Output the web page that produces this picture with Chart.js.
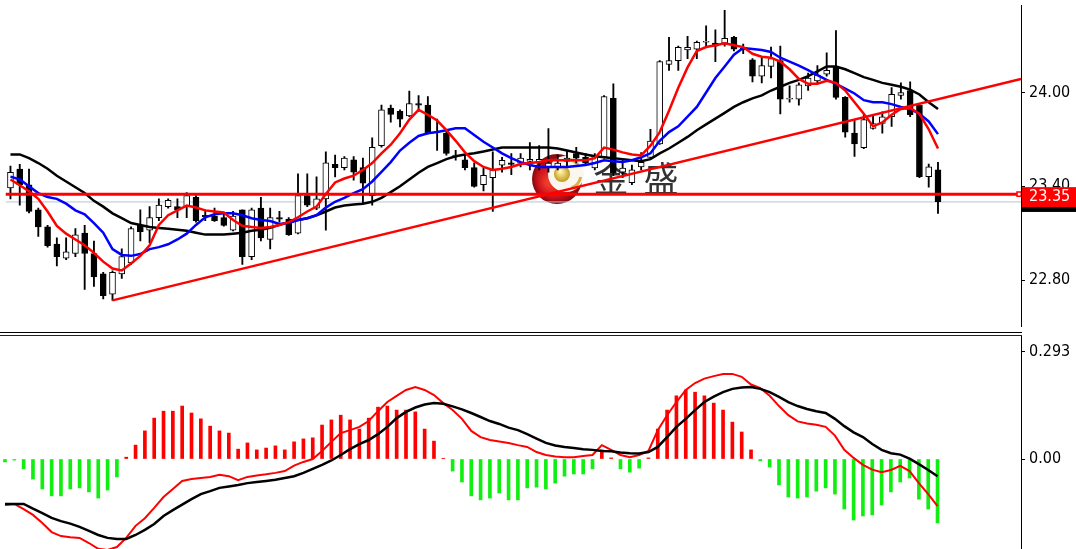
<!DOCTYPE html>
<html><head><meta charset="utf-8">
<script src="https://cdn.jsdelivr.net/npm/chart.js@4.4.1/dist/chart.umd.min.js"></script>
<style>
html,body{margin:0;padding:0;background:#fff;width:1076px;height:549px;overflow:hidden;}
#main{position:absolute;left:0;top:0;width:1076px;height:332px;}
#macd{position:absolute;left:0;top:336px;width:1076px;height:213px;}
.sep{position:absolute;left:0;width:1022px;height:1px;background:#000;}
</style></head><body>
<div id="main"><canvas id="c1"></canvas></div>
<div class="sep" style="top:332px"></div>
<div class="sep" style="top:335px;background:#222"></div>
<div id="macd"><canvas id="c2"></canvas></div>
<script>
// ---------- data ----------
const opens = [
23.39,23.51,23.41,23.25,23.14,23.03,22.94,22.97,23.10,22.97,
22.84,22.71,22.84,22.91,23.15,23.12,23.20,23.27,23.27,23.27,
23.33,23.215,23.21,23.20,23.12,23.25,22.95,23.26,23.06,23.20,
23.19,23.10,23.34,23.26,23.32,23.54,23.52,23.57,23.52,23.34,
23.66,23.90,23.88,23.85,23.93,23.92,23.75,23.74,23.59,23.57,
23.52,23.41,23.455,23.535,23.55,23.548,23.56,23.548,23.524,23.524,
23.56,23.61,23.585,23.517,23.585,23.963,23.49,23.424,23.524,23.585,
23.672,24.18,24.204,24.272,24.278,24.322,24.316,24.316,24.353,24.285,
24.21,24.105,24.167,24.204,23.957,23.957,24.043,24.074,24.118,24.167,
23.969,23.74,23.647,23.771,23.802,23.845,23.982,24.013,23.92,23.462,
23.505];
const closes = [
23.49,23.41,23.24,23.14,23.02,22.95,22.98,23.09,22.97,22.82,
22.70,22.85,22.95,23.13,23.11,23.20,23.28,23.31,23.25,23.34,
23.18,23.205,23.18,23.15,23.21,22.95,23.25,23.07,23.20,23.19,
23.09,23.34,23.28,23.32,23.55,23.52,23.58,23.49,23.42,23.65,
23.89,23.86,23.83,23.93,23.92,23.74,23.745,23.61,23.60,23.52,
23.40,23.47,23.505,23.566,23.54,23.58,23.573,23.573,23.548,23.548,
23.58,23.58,23.548,23.60,23.975,23.486,23.517,23.505,23.554,23.69,
24.198,24.204,24.29,24.29,24.322,24.328,24.297,24.347,24.278,24.272,
24.105,24.173,24.217,23.957,23.963,24.05,24.093,24.111,24.142,23.969,
23.746,23.672,23.827,23.802,23.845,23.988,24.0,23.858,23.462,23.524,
23.301];
const highs = [
23.53,23.54,23.51,23.26,23.15,23.07,23.07,23.13,23.15,23.05,
22.85,22.86,23.00,23.14,23.25,23.27,23.32,23.32,23.32,23.36,
23.34,23.25,23.26,23.23,23.24,23.25,23.26,23.33,23.26,23.24,
23.20,23.48,23.48,23.46,23.62,23.60,23.59,23.59,23.58,23.71,
23.92,23.92,23.89,24.01,23.98,23.975,23.83,23.765,23.63,23.60,
23.55,23.52,23.62,23.585,23.61,23.61,23.68,23.66,23.77,23.60,
23.63,23.65,23.61,23.61,23.98,24.056,23.567,23.536,23.616,23.765,
24.204,24.353,24.297,24.36,24.33,24.427,24.402,24.526,24.36,24.31,
24.217,24.229,24.291,24.297,24.043,24.062,24.124,24.173,24.254,24.396,
23.975,23.827,23.858,23.858,23.876,24.031,24.062,24.068,23.925,23.542,
23.554];
const lows = [
23.32,23.28,23.23,23.08,23.01,22.89,22.93,22.95,22.74,22.76,
22.68,22.67,22.81,22.90,23.05,23.04,23.18,23.26,23.20,23.20,
23.17,23.18,23.175,23.145,23.115,22.90,22.93,23.05,23.00,23.17,
23.085,23.095,23.27,23.25,23.12,23.46,23.505,23.44,23.29,23.28,
23.65,23.81,23.78,23.845,23.88,23.735,23.63,23.60,23.567,23.505,
23.395,23.37,23.24,23.49,23.474,23.524,23.505,23.505,23.49,23.505,
23.52,23.55,23.536,23.505,23.58,23.468,23.455,23.41,23.505,23.58,
23.668,24.142,24.142,24.217,24.217,24.29,24.198,24.297,24.266,24.248,
24.068,24.062,24.093,23.864,23.938,23.92,24.013,24.062,24.105,23.957,
23.715,23.592,23.641,23.765,23.74,23.783,23.957,23.845,23.455,23.394,
23.227];
const maFast = [
23.444,23.407,23.369,23.320,23.239,23.147,23.097,23.060,23.023,22.974,
22.918,22.874,22.862,22.906,22.955,23.023,23.153,23.215,23.246,23.277,
23.264,23.246,23.239,23.233,23.184,23.147,23.140,23.134,23.140,23.153,
23.171,23.202,23.239,23.270,23.351,23.425,23.450,23.468,23.505,23.549,
23.611,23.666,23.740,23.827,23.889,23.858,23.821,23.759,23.691,23.617,
23.561,23.524,23.505,23.512,23.524,23.543,23.549,23.555,23.567,23.567,
23.567,23.567,23.567,23.580,23.648,23.635,23.617,23.604,23.598,23.660,
23.747,23.883,24.031,24.161,24.266,24.291,24.303,24.316,24.303,24.291,
24.248,24.229,24.223,24.198,24.149,24.087,24.056,24.056,24.075,24.062,
24.013,23.938,23.864,23.784,23.809,23.858,23.895,23.901,23.864,23.765,
23.642];
const maMid = [
23.462,23.444,23.400,23.357,23.332,23.320,23.289,23.246,23.221,23.165,
23.103,22.998,22.961,22.955,22.967,22.998,23.011,23.029,23.060,23.097,
23.153,23.202,23.221,23.227,23.227,23.215,23.196,23.184,23.178,23.159,
23.165,23.184,23.196,23.215,23.264,23.301,23.326,23.357,23.382,23.431,
23.493,23.555,23.629,23.679,23.722,23.740,23.747,23.759,23.771,23.771,
23.728,23.685,23.648,23.611,23.580,23.555,23.536,23.524,23.524,23.524,
23.524,23.530,23.536,23.549,23.567,23.561,23.555,23.567,23.586,23.611,
23.691,23.747,23.784,23.846,23.908,24.000,24.093,24.167,24.242,24.285,
24.279,24.272,24.260,24.223,24.198,24.173,24.143,24.112,24.081,24.056,
24.025,23.994,23.951,23.938,23.938,23.926,23.908,23.895,23.864,23.815,
23.734];
const maSlow = [
23.604,23.604,23.580,23.549,23.512,23.468,23.431,23.394,23.357,23.307,
23.270,23.227,23.196,23.165,23.153,23.140,23.134,23.128,23.122,23.116,
23.103,23.091,23.091,23.091,23.097,23.103,23.116,23.122,23.134,23.153,
23.171,23.184,23.196,23.215,23.239,23.264,23.277,23.283,23.289,23.301,
23.326,23.363,23.400,23.444,23.487,23.524,23.549,23.574,23.592,23.604,
23.611,23.623,23.635,23.648,23.648,23.648,23.648,23.648,23.648,23.642,
23.629,23.617,23.604,23.592,23.586,23.580,23.574,23.567,23.561,23.574,
23.611,23.642,23.679,23.716,23.759,23.796,23.833,23.870,23.908,23.938,
23.963,23.982,24.013,24.037,24.062,24.081,24.105,24.136,24.167,24.167,
24.149,24.124,24.099,24.081,24.062,24.050,24.037,24.019,23.988,23.938,
23.895];
const macdHist = [
-0.008,-0.003,-0.027,-0.055,-0.082,-0.101,-0.101,-0.082,-0.079,-0.090,
-0.107,-0.085,-0.049,0.005,0.038,0.077,0.112,0.131,0.131,0.145,
0.126,0.110,0.090,0.077,0.071,0.027,0.044,0.025,0.030,0.036,
0.025,0.047,0.055,0.058,0.093,0.107,0.120,0.107,0.082,0.112,
0.142,0.145,0.134,0.134,0.129,0.082,0.049,0.002,-0.033,-0.063,
-0.101,-0.112,-0.107,-0.093,-0.112,-0.112,-0.079,-0.077,-0.082,-0.066,
-0.047,-0.041,-0.041,-0.027,0.025,0.003,-0.027,-0.036,-0.025,0.003,
0.082,0.134,0.173,0.189,0.183,0.173,0.153,0.134,0.101,0.074,
0.025,-0.005,-0.022,-0.071,-0.104,-0.107,-0.104,-0.088,-0.079,-0.096,
-0.137,-0.167,-0.156,-0.153,-0.126,-0.090,-0.063,-0.052,-0.110,-0.137,
-0.175];
const macdLine = [
-0.126,-0.123,-0.137,-0.153,-0.175,-0.200,-0.211,-0.214,-0.216,-0.230,
-0.246,-0.249,-0.241,-0.216,-0.183,-0.162,-0.134,-0.104,-0.082,-0.060,
-0.055,-0.052,-0.049,-0.043,-0.047,-0.058,-0.049,-0.045,-0.042,-0.038,
-0.033,-0.018,-0.008,0.000,0.022,0.047,0.071,0.079,0.088,0.104,
0.131,0.156,0.173,0.189,0.197,0.189,0.175,0.153,0.134,0.110,
0.077,0.060,0.052,0.048,0.044,0.038,0.033,0.019,0.011,0.007,
0.005,0.005,0.008,0.011,0.038,0.025,0.011,0.005,0.011,0.022,
0.079,0.120,0.156,0.189,0.208,0.220,0.227,0.233,0.233,0.225,
0.204,0.194,0.173,0.145,0.120,0.103,0.097,0.094,0.088,0.064,
0.025,0.003,-0.016,-0.029,-0.036,-0.030,-0.019,-0.033,-0.066,-0.096,
-0.129];
const macdSignal = [
-0.123,-0.123,-0.123,-0.136,-0.148,-0.161,-0.170,-0.177,-0.186,-0.197,
-0.208,-0.216,-0.219,-0.219,-0.208,-0.194,-0.178,-0.156,-0.140,-0.125,
-0.110,-0.096,-0.088,-0.079,-0.075,-0.071,-0.066,-0.063,-0.060,-0.057,
-0.052,-0.047,-0.038,-0.027,-0.016,-0.004,0.011,0.027,0.041,0.052,
0.068,0.088,0.112,0.129,0.141,0.149,0.153,0.151,0.144,0.136,
0.126,0.115,0.104,0.096,0.086,0.079,0.068,0.056,0.044,0.037,
0.033,0.030,0.027,0.025,0.022,0.021,0.018,0.016,0.015,0.019,
0.033,0.060,0.088,0.110,0.134,0.156,0.171,0.183,0.192,0.196,
0.197,0.192,0.183,0.170,0.156,0.145,0.137,0.131,0.126,0.110,
0.090,0.073,0.060,0.041,0.025,0.016,0.012,0.001,-0.014,-0.030,
-0.047];
const priceTicks = [22.80, 23.40, 24.00];
const macdTicks = [0, 0.293];
const macdTickLabels = ['0.00', '0.293'];
const hLevel = 23.35;
const lastPrice = 23.30;
const trendStart = [11, 22.67];
const trendEnd = [108.95, 24.087];
const watermarkText = ['金', '盛'];

// ---------- view ranges ----------
const xMin = -0.536, xMax = 108.95;
const yMinMain = 22.503, yMaxMain = 24.557;
const yMinMacd = -0.2464, yMaxMacd = 0.3368;
const FONTFAM = '"DejaVu Sans Condensed", "DejaVu Sans", sans-serif';
const FONT = {family: FONTFAM, size: 16};

const idx = opens.map((_, i) => i);
const pts = arr => arr.map((v, i) => ({x: i, y: v}));

const watermark = {
  id: 'wm',
  beforeDatasetsDraw(chart) {
    const ctx = chart.ctx; ctx.save();
    const cx = 557, cy = 179, r = 25;
    let g = ctx.createRadialGradient(cx - 8, cy + 4, 3, cx, cy, r);
    g.addColorStop(0, '#ef3b2c'); g.addColorStop(0.65, '#c8101a'); g.addColorStop(1, '#7d0a0e');
    ctx.fillStyle = g; ctx.beginPath(); ctx.arc(cx, cy, r, 0, Math.PI * 2); ctx.fill();
    ctx.fillStyle = '#fbf7ee'; ctx.beginPath(); ctx.arc(cx + 9, cy - 5, 18, 0, Math.PI * 2); ctx.fill();
    ctx.strokeStyle = '#d8b24a'; ctx.lineWidth = 3;
    ctx.beginPath(); ctx.arc(cx + 9, cy - 5, 15, -1.3, -0.5); ctx.stroke();
    ctx.beginPath(); ctx.arc(cx + 9, cy - 5, 15, 0.2, 1.2); ctx.stroke();
    g = ctx.createRadialGradient(cx + 3, cy - 8, 1, cx + 5, cy - 5, 8);
    g.addColorStop(0, '#fff4a8'); g.addColorStop(1, '#c49a1c');
    ctx.fillStyle = g; ctx.beginPath(); ctx.arc(cx + 5, cy - 5, 8, 0, Math.PI * 2); ctx.fill();
    ctx.fillStyle = '#333333'; ctx.font = '35px "Noto Sans CJK SC"';
    ctx.textAlign = 'center'; ctx.textBaseline = 'middle';
    ctx.fillText(watermarkText[0], 611, 179);
    ctx.fillText(watermarkText[1], 661, 179);
    ctx.restore();
  }
};

const priceLabels = {
  id: 'pl',
  afterDraw(chart) {
    const ctx = chart.ctx, ys = chart.scales.y, x0 = chart.chartArea.right + 1, w = chart.width - x0;
    ctx.save(); ctx.font = '16px ' + FONTFAM; ctx.textAlign = 'left'; ctx.textBaseline = 'middle';
    let y = ys.getPixelForValue(lastPrice);
    ctx.fillStyle = '#000'; ctx.fillRect(x0, y - 10, w, 20);
    ctx.fillStyle = '#fff'; ctx.fillText(lastPrice.toFixed(2), x0 + 7, y);
    y = ys.getPixelForValue(hLevel);
    ctx.fillStyle = '#ff0000'; ctx.fillRect(x0, y - 7, w, 20);
    ctx.fillStyle = '#fff'; ctx.fillText(hLevel.toFixed(2), x0 + 7, y + 3);
    ctx.restore();
  }
};

const barCommon = {barPercentage: 1, categoryPercentage: 1, grouped: false};

function yAxis(min, max, ticks, fmt) {
  return {
    position: 'right', min, max,
    afterBuildTicks: s => { s.ticks = ticks.map(v => ({value: v})); },
    afterFit: s => { s.width = 55; s.paddingTop = 0; s.paddingBottom = 0; },
    ticks: {callback: fmt, color: '#000', font: FONT, padding: 4, autoSkip: false},
    grid: {drawOnChartArea: false, drawTicks: true, tickLength: 4, color: '#000'},
    border: {display: true, color: '#000', width: 1}
  };
}
const baseOpts = {
  responsive: true, maintainAspectRatio: false, animation: false, events: [],
  layout: {padding: 0},
  plugins: {legend: {display: false}, tooltip: {enabled: false}}
};

new Chart(document.getElementById('c1'), {
  type: 'bar',
  data: {datasets: [
    {type: 'line', data: [{x: xMin, y: hLevel}, {x: xMax - 0.2, y: hLevel}], borderColor: '#ff0000', borderWidth: 3,
     pointRadius: [0, 3], pointStyle: 'rect', pointBackgroundColor: '#fff', pointBorderColor: '#ff0000', pointBorderWidth: 1.5, order: 1},
    {type: 'line', data: [{x: trendStart[0], y: trendStart[1]}, {x: trendEnd[0], y: trendEnd[1]}], borderColor: '#ff0000', borderWidth: 2.5, pointRadius: 0, order: 2},
    {type: 'line', data: pts(maFast), borderColor: '#ff0000', borderWidth: 2.5, pointRadius: 0, order: 3},
    {type: 'line', data: pts(maMid), borderColor: '#0000ff', borderWidth: 2.5, pointRadius: 0, order: 4},
    {type: 'line', data: pts(maSlow), borderColor: '#000000', borderWidth: 2.5, pointRadius: 0, order: 5},
    Object.assign({type: 'bar', data: idx.map(i => ({x: i, y: [opens[i], closes[i]]})),
     backgroundColor: idx.map(i => closes[i] >= opens[i] ? '#ffffff' : '#000000'),
     borderColor: '#000', borderWidth: 1, borderSkipped: false, maxBarThickness: 6, order: 6}, barCommon),
    Object.assign({type: 'bar', data: idx.map(i => ({x: i, y: [lows[i], highs[i]]})),
     backgroundColor: '#000', borderWidth: 0, maxBarThickness: 1.2, order: 7}, barCommon),
    {type: 'line', data: [{x: xMin, y: lastPrice}, {x: xMax, y: lastPrice}], borderColor: '#b8c2d2', borderWidth: 1, pointRadius: 0, order: 8}
  ]},
  options: Object.assign({}, baseOpts, {
    scales: {
      x: {type: 'linear', min: xMin, max: xMax, display: false, offset: false},
      y: yAxis(yMinMain, yMaxMain, priceTicks, v => Number(v).toFixed(2))
    }
  }),
  plugins: [watermark, priceLabels]
});

new Chart(document.getElementById('c2'), {
  type: 'bar',
  data: {datasets: [
    {type: 'line', data: pts(macdSignal), borderColor: '#000000', borderWidth: 2.5, pointRadius: 0, order: 1},
    {type: 'line', data: pts(macdLine), borderColor: '#ff0000', borderWidth: 2, pointRadius: 0, order: 2},
    Object.assign({type: 'bar', data: pts(macdHist),
     backgroundColor: macdHist.map(v => v >= 0 ? '#ff0000' : '#11ee11'), borderWidth: 0, maxBarThickness: 3, order: 3}, barCommon)
  ]},
  options: Object.assign({}, baseOpts, {
    scales: {
      x: {type: 'linear', min: xMin, max: xMax, display: false, offset: false},
      y: yAxis(yMinMacd, yMaxMacd, macdTicks, v => macdTickLabels[macdTicks.indexOf(v)])
    }
  })
});
</script>
</body></html>
